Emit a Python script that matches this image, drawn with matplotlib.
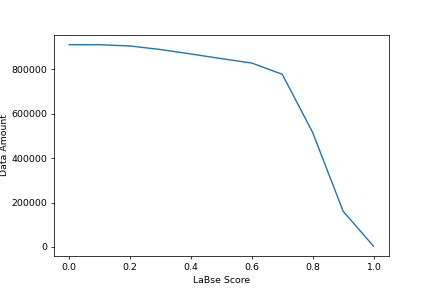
import matplotlib
matplotlib.use("Agg")
import matplotlib.pyplot as plt

# LaBse score thresholds and remaining data amount
scores = [0.0, 0.1, 0.2, 0.3, 0.4, 0.5, 0.6, 0.7, 0.8, 0.9, 1.0]
data_amount = [911000, 910500, 905000, 889000, 869000, 848000, 828000, 777500, 515000, 160500, 3000]

# 6.4in wide at 67.5 dpi -> 432x288 px
fig = plt.figure(figsize=(6.4, 288 / 67.5), dpi=67.5)
plt.plot(scores, data_amount)
plt.xlabel('LaBse Score')
plt.ylabel('Data Amount', labelpad=2.5)
plt.savefig('out.png')
